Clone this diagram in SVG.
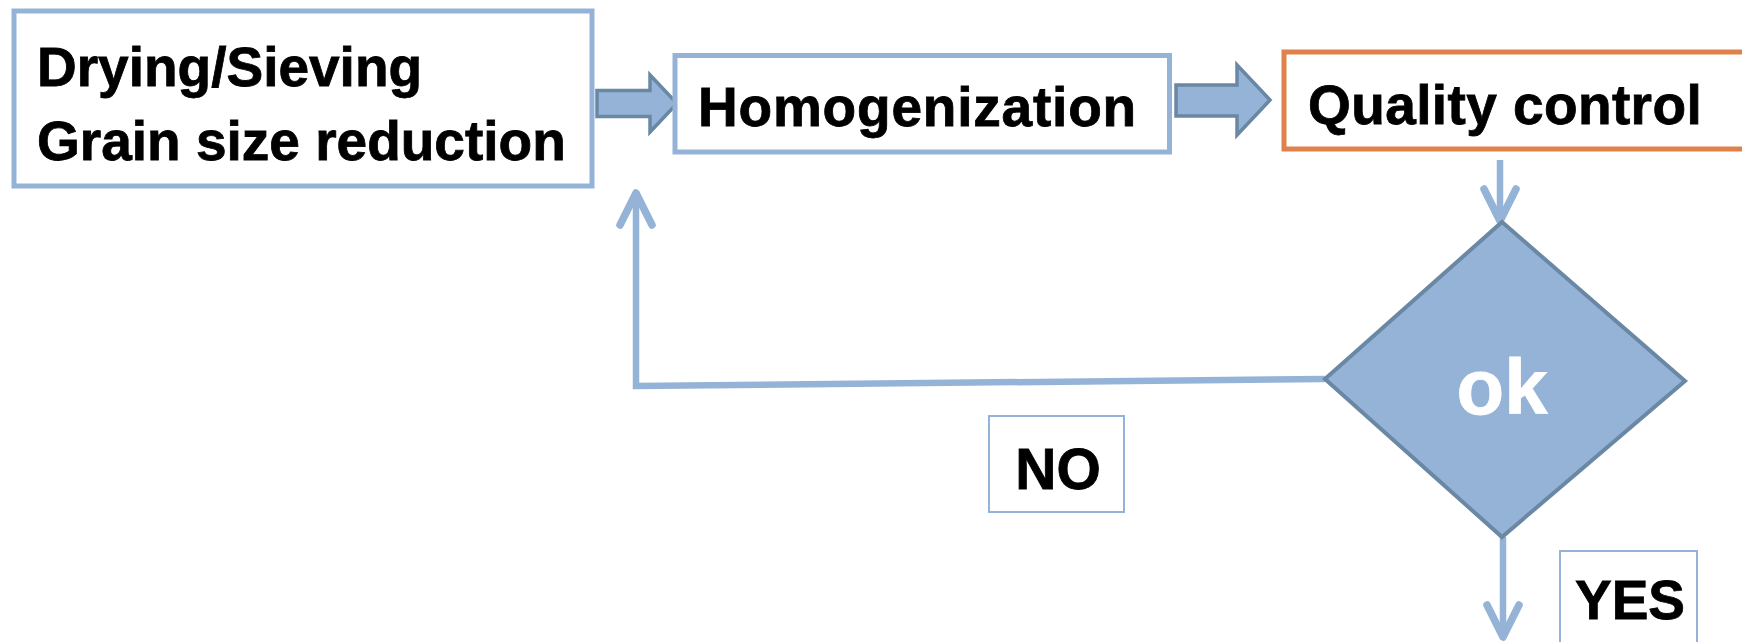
<svg xmlns="http://www.w3.org/2000/svg" width="1742" height="642" viewBox="0 0 1742 642">
<style>
.box{fill:#fff;stroke:#95B3D7;stroke-width:5}
.qc{fill:#fff;stroke:#E0804A;stroke-width:5}
.lbl{fill:#fff;stroke:#95B3D7;stroke-width:2}
.blk{fill:#95B3D7;stroke:#6A88A4;stroke-width:3.5;stroke-linejoin:miter}
.t{font-family:"Liberation Sans",Arial,sans-serif;font-weight:bold;fill:#000;stroke:#000;stroke-width:0.8}
.w{fill:#fff;stroke:#fff}
.conn{fill:none;stroke:#95B3D7;stroke-width:6.5}
</style>
<defs>
<marker id="chev" markerUnits="userSpaceOnUse" orient="auto" overflow="visible" markerWidth="1" markerHeight="1">
<path d="M-32,-16 L0,0 L-32,16" fill="none" stroke="#95B3D7" stroke-width="7.5" stroke-linecap="round" stroke-linejoin="round"/>
</marker>
</defs>
<rect width="1742" height="642" fill="#fff"/>
<g id="connectors">
<polygon class="blk" points="597,90.5 650,90.5 650,75 677,103.5 650,132 650,116.5 597,116.5"/>
<polygon class="blk" points="1176,85 1237,85 1237,65 1270,100 1237,135 1237,116 1176,116"/>
<line class="conn" x1="1500" y1="160" x2="1500" y2="221" marker-end="url(#chev)"/>
<polyline class="conn" points="1325,379 636,386 636,193" marker-end="url(#chev)"/>
<line class="conn" x1="1503" y1="537" x2="1503" y2="637" marker-end="url(#chev)"/>
</g>
<g id="node-drying">
<rect class="box" x="14" y="11" width="578" height="175"/>
<text class="t" x="37" y="86" font-size="55">Drying/Sieving</text>
<text class="t" x="37" y="160" font-size="55">Grain size reduction</text>
</g>
<g id="node-homogenization">
<rect class="box" x="675" y="55.5" width="494.5" height="96.5"/>
<text class="t" x="698" y="126" font-size="55" letter-spacing="0.8">Homogenization</text>
</g>
<g id="node-quality">
<rect class="qc" x="1284" y="52" width="470" height="97"/>
<text class="t" x="1308" y="124" font-size="55" letter-spacing="0.4">Quality control</text>
</g>
<g id="node-ok">
<polygon points="1502,222 1685,381 1502,537 1325,379" fill="#95B3D7" stroke="#6A88A4" stroke-width="4"/>
<text class="t w" x="1502" y="414" font-size="78" text-anchor="middle">ok</text>
</g>
<g id="label-no">
<rect class="lbl" x="989" y="416" width="135" height="96"/>
<text class="t" x="1058" y="489" font-size="57" text-anchor="middle">NO</text>
</g>
<g id="label-yes">
<rect class="lbl" x="1560" y="551" width="137" height="100"/>
<text class="t" x="1630" y="619" font-size="55" text-anchor="middle">YES</text>
</g>
</svg>
